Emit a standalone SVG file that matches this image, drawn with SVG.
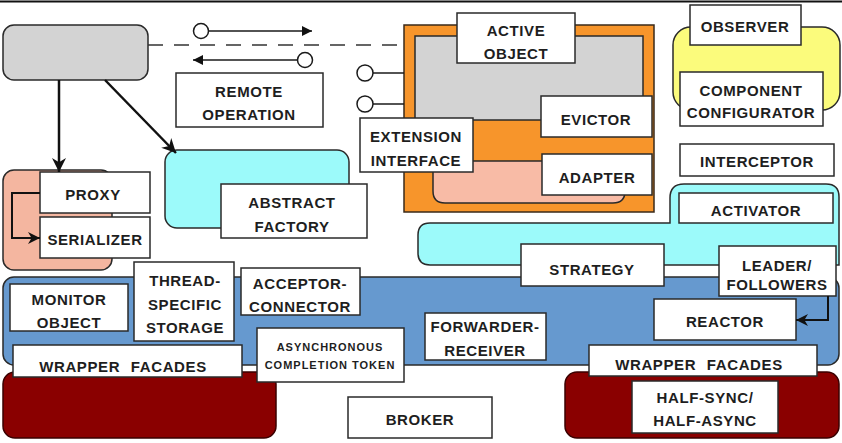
<svg xmlns="http://www.w3.org/2000/svg" width="842" height="443" viewBox="0 0 842 443">
<defs>
<style>
.box{fill:#ffffff;stroke:#2a2a2a;stroke-width:1.5}
.t{font-family:"Liberation Sans",Arial,sans-serif;font-weight:bold;font-size:15px;fill:#1e1e1e;text-anchor:middle;letter-spacing:0.6px}
.s{font-size:11px;letter-spacing:1px}
.ws{word-spacing:6px}
.ln{fill:none;stroke:#1a1a1a;stroke-width:1.5}
.thick{fill:none;stroke:#111;stroke-width:2.5}
.circ{fill:#fff;stroke:#1a1a1a;stroke-width:1.5}
</style>
<marker id="ah" viewBox="0 0 10 10" refX="10" refY="5" markerWidth="14" markerHeight="10" markerUnits="userSpaceOnUse" orient="auto"><path d="M0,0 L10,5 L0,10 Z" fill="#111"/></marker>
<marker id="ahb" viewBox="0 0 10 10" refX="10" refY="5" markerWidth="18" markerHeight="14" markerUnits="userSpaceOnUse" orient="auto"><path d="M0,0 L10,5 L0,10 L3,5 Z" fill="#111"/></marker>
<marker id="ahs" viewBox="0 0 10 10" refX="10" refY="5" markerWidth="15" markerHeight="12" markerUnits="userSpaceOnUse" orient="auto"><path d="M0,0 L10,5 L0,10 L3,5 Z" fill="#111"/></marker>
</defs>
<rect width="842" height="443" fill="#fff"/>
<line x1="0" y1="1.5" x2="842" y2="1.5" stroke="#111" stroke-width="2"/>

<g id="client"><rect x="3" y="25" width="145" height="55" rx="11" fill="#d3d3d3" stroke="#2a2a2a" stroke-width="1.5"/></g>

<g id="remote-operation"><rect class="box" x="176" y="73" width="147" height="54"/><text class="t" x="249" y="97">REMOTE</text><text class="t" x="249" y="120">OPERATION</text></g>

<g id="active-object-group">
<rect x="404" y="25" width="250" height="187" fill="#f7952b" stroke="#3a2a1a" stroke-width="1.5"/>
<rect x="415" y="36" width="228" height="84" fill="#d3d3d3" stroke="#2a2a2a" stroke-width="1.5"/>
<path d="M433,161 H625 V191 Q625,203 613,203 H445 Q433,203 433,191 Z" fill="#f8bba6" stroke="#2a2a2a" stroke-width="1.5"/>
</g>
<g id="active-object"><rect class="box" x="457" y="13" width="118" height="50"/><text class="t" x="516" y="36">ACTIVE</text><text class="t" x="516" y="59">OBJECT</text></g>
<g id="evictor"><rect class="box" x="541" y="96" width="111" height="41"/><text class="t" x="596" y="125">EVICTOR</text></g>
<g id="adapter"><rect class="box" x="542" y="154" width="110" height="41"/><text class="t" x="597" y="183">ADAPTER</text></g>
<g id="extension-interface"><rect class="box" x="360" y="118" width="113" height="54"/><text class="t" x="416" y="142">EXTENSION</text><text class="t" x="416" y="166">INTERFACE</text></g>

<g id="observer-group"><rect x="673" y="27" width="167" height="83" rx="18" fill="#fbfb7c" stroke="#2a2a2a" stroke-width="1.5"/></g>
<g id="observer"><rect class="box" x="690" y="5" width="111" height="40"/><text class="t" x="745" y="32">OBSERVER</text></g>
<g id="component-configurator"><rect class="box" x="680" y="72" width="143" height="54"/><text class="t" x="751" y="96">COMPONENT</text><text class="t" x="751" y="118">CONFIGURATOR</text></g>
<g id="interceptor"><rect class="box" x="680" y="144" width="154" height="32"/><text class="t" x="757" y="167">INTERCEPTOR</text></g>

<g id="strategy-group"><path d="M684,184 H826 Q839,184 839,197 V265 H430 Q418,265 418,253 V235 Q418,223 430,223 H670 V198 Q670,184 684,184 Z" fill="#9cfafa" stroke="#2a2a2a" stroke-width="1.5"/></g>
<g id="activator"><rect class="box" x="679" y="193" width="154" height="30"/><text class="t" x="756" y="216">ACTIVATOR</text></g>

<g id="proxy-group"><rect x="3" y="170" width="109" height="100" rx="11" fill="#f4b6a0" stroke="#2a2a2a" stroke-width="1.5"/></g>
<g id="proxy"><rect class="box" x="40" y="172" width="110" height="41"/><text class="t" x="93" y="200">PROXY</text></g>
<g id="serializer"><rect class="box" x="40" y="217" width="110" height="41"/><text class="t" x="95" y="245">SERIALIZER</text></g>

<g id="abstract-factory-group"><rect x="165" y="150" width="184" height="78" rx="12" fill="#9cfafa" stroke="#2a2a2a" stroke-width="1.5"/></g>
<g id="abstract-factory"><rect class="box" x="221" y="184" width="146" height="54"/><text class="t" x="292" y="208">ABSTRACT</text><text class="t" x="292" y="232">FACTORY</text></g>

<g id="concurrency-group"><rect x="3" y="277" width="836" height="88" rx="11" fill="#6699cf" stroke="#2a2a2a" stroke-width="1.5"/></g>
<g id="strategy"><rect class="box" x="521" y="244" width="143" height="42"/><text class="t" x="592" y="275">STRATEGY</text></g>
<g id="leader-followers"><rect class="box" x="719" y="246" width="117" height="50"/><text class="t" x="777" y="271">LEADER/</text><text class="t" x="777" y="290">FOLLOWERS</text></g>
<g id="reactor"><rect class="box" x="654" y="299" width="142" height="41"/><text class="t" x="725" y="327">REACTOR</text></g>
<g id="forwarder-receiver"><rect class="box" x="425" y="313" width="121" height="47"/><text class="t" x="485" y="332">FORWARDER-</text><text class="t" x="485" y="356">RECEIVER</text></g>
<g id="monitor-object"><rect class="box" x="10" y="284" width="118" height="47"/><text class="t" x="69" y="305">MONITOR</text><text class="t" x="69" y="328">OBJECT</text></g>
<g id="thread-specific-storage"><rect class="box" x="134" y="262" width="100" height="79"/><text class="t" x="185" y="286">THREAD-</text><text class="t" x="185" y="310">SPECIFIC</text><text class="t" x="185" y="333">STORAGE</text></g>
<g id="acceptor-connector"><rect class="box" x="241" y="268" width="119" height="47"/><text class="t" x="300" y="289">ACCEPTOR-</text><text class="t" x="300" y="312">CONNECTOR</text></g>

<g id="wrapper-left-base"><rect x="3" y="372" width="273" height="66" rx="12" fill="#8a0000" stroke="#3a0000" stroke-width="1.5"/></g>
<g id="wrapper-right-base"><rect x="565" y="372" width="274" height="66" rx="12" fill="#8a0000" stroke="#3a0000" stroke-width="1.5"/></g>
<g id="wrapper-facades-left"><rect class="box" x="13" y="345" width="229" height="32"/><text class="t ws" x="123" y="372">WRAPPER FACADES</text></g>
<g id="wrapper-facades-right"><rect class="box" x="589" y="345" width="228" height="31"/><text class="t ws" x="699" y="370">WRAPPER FACADES</text></g>
<g id="asynchronous-completion-token"><rect class="box" x="257" y="328" width="147" height="54"/><text class="t s" x="330" y="351">ASYNCHRONOUS</text><text class="t s" x="330" y="369">COMPLETION TOKEN</text></g>
<g id="half-sync-half-async"><rect class="box" x="632" y="381" width="146" height="52"/><text class="t" x="705" y="403">HALF-SYNC/</text><text class="t" x="705" y="426">HALF-ASYNC</text></g>
<g id="broker"><rect class="box" x="348" y="397" width="144" height="41"/><text class="t" x="420" y="425">BROKER</text></g>

<g id="connectors">
<line x1="148" y1="45" x2="402" y2="45" stroke="#333" stroke-width="1.5" stroke-dasharray="15,11"/>
<line class="ln" x1="208" y1="31" x2="312" y2="31" marker-end="url(#ah)"/>
<circle class="circ" cx="201" cy="31" r="7.5"/>
<line class="ln" x1="297" y1="60" x2="193" y2="60" marker-end="url(#ah)"/>
<circle class="circ" cx="305" cy="60" r="7.5"/>
<line class="ln" x1="373" y1="73" x2="404" y2="73"/>
<circle class="circ" cx="365" cy="73" r="8"/>
<line class="ln" x1="373" y1="104" x2="404" y2="104"/>
<circle class="circ" cx="365" cy="104" r="8"/>
<line class="thick" x1="59" y1="80" x2="59" y2="172" marker-end="url(#ahb)"/>
<line class="thick" x1="105" y1="80" x2="176" y2="153" marker-end="url(#ahb)"/>
<polyline fill="none" stroke="#111" stroke-width="2" points="40,193 12,193 12,238 40,238" marker-end="url(#ahs)"/>
<polyline fill="none" stroke="#111" stroke-width="2" points="828,296 828,320 796,320" marker-end="url(#ahs)"/>
</g>
</svg>
